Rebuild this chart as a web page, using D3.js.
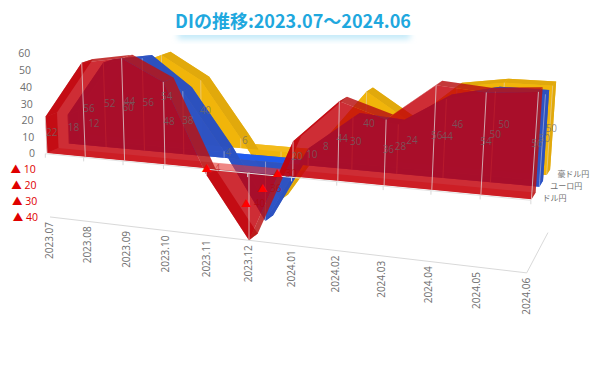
<!DOCTYPE html>
<html>
<head>
<meta charset="utf-8">
<script src="https://cdn.jsdelivr.net/npm/d3@7"></script>
<style>
  html, body { margin: 0; padding: 0; background: #fff; }
  text { font-family: "Open Sans", "Noto Sans CJK JP", sans-serif; }
</style>
</head>
<body>
<div id="chart"></div>
<script>
var months = ["2023.07","2023.08","2023.09","2023.10","2023.11","2023.12","2024.01","2024.02","2024.03","2024.04","2024.05","2024.06"];
var usdjpy = [22, 56, 60, 48, -4, -40, 20, 44, 36, 56, 54, 56];
var eurjpy = [18, 52, 56, 38, 4, -36, 10, 30, 28, 44, 50, 50];
var audjpy = [12, 44, 54, 40, 6, -30, 8, 40, 24, 46, 50, 50];
var valueTicks = [60, 50, 40, 30, 20, 10, 0, -10, -20, -30, -40];
var seriesNames = ["ドル円", "ユーロ円", "豪ドル円"];

var width = 600, height = 370;
var svg = d3.select("#chart").append("svg").attr("width", width).attr("height", height);

var tScale = d3.scaleLinear().domain([0, months.length - 1]).range([0, 1]);
var last = months.length - 1;
var grey = "#d9d9d9";

// perspective projection, fitted by eye to the reference
function project(i, v, d) {
    var t = tScale(i);
    var w = 1 - 0.142 * t - 0.000373 * v + 0.08 * d;
    return [(47 + 409 * t - 0.094 * v + 60 * d) / w, (153 + 18 * t - 1.68 * v - 12 * d) / w];
}
function pts(list) { return list.map(function (p) { return p.join(","); }).join(" "); }
function segment(parent, a, b, col, sw, op) {
    parent.append("line").attr("x1", a[0]).attr("y1", a[1]).attr("x2", b[0]).attr("y2", b[1])
        .attr("stroke", col).attr("stroke-width", sw || 1).attr("stroke-opacity", op || 1);
}

var defs = svg.append("defs");
defs.append("filter").attr("id", "glow").attr("x", "-10%").attr("y", "-50%").attr("width", "120%").attr("height", "200%")
    .append("feGaussianBlur").attr("stdDeviation", 3);

// title
svg.append("rect").attr("x", 178).attr("y", 30).attr("width", 232).attr("height", 9).attr("fill", "#bfe8f8").attr("filter", "url(#glow)");
svg.append("rect").attr("x", 168).attr("y", 6).attr("width", 250).attr("height", 29).attr("fill", "#fff");
svg.append("text").attr("x", 293).attr("y", 28).attr("text-anchor", "middle")
    .attr("font-size", 18).attr("font-weight", 700).attr("fill", "#1fa8de")
    .style("font-family", '"Noto Sans CJK JP", sans-serif')
    .text("DIの推移:2023.07～2024.06");

// floor lines
segment(svg, project(0, -40, 0), project(last, -40, 0), grey);
segment(svg, project(last, -40, 0), project(last, -40, 1.15), grey);

// ribbons, back to front
function ribbon(values, d0, d1, cols) {
    var g = svg.append("g");
    var idx = d3.range(values.length);
    function face(d) {
        return idx.map(function (i) { return project(i, values[i], d); })
            .concat(idx.slice().reverse().map(function (i) { return project(i, 0, d); }));
    }
    function poly(p, col, op) {
        g.append("polygon").attr("points", pts(p)).attr("fill", col).attr("fill-opacity", op);
    }
    poly(face(d1), cols.face, cols.backOp);
    poly([project(0, 0, d0), project(last, 0, d0), project(last, 0, d1), project(0, 0, d1)], cols.base, cols.baseOp);
    idx.slice(0, -1).forEach(function (i) {
        poly([project(i, values[i], d0), project(i + 1, values[i + 1], d0), project(i + 1, values[i + 1], d1), project(i, values[i], d1)], cols.top, cols.topOp);
    });
    poly([project(0, 0, d0), project(0, values[0], d0), project(0, values[0], d1), project(0, 0, d1)], cols.top, cols.topOp);
    poly([project(last, 0, d0), project(last, values[last], d0), project(last, values[last], d1), project(last, 0, d1)], cols.top, cols.topOp);
    poly(face(d0), cols.face, cols.faceOp);
    // drop lines
    idx.forEach(function (i) {
        segment(g, project(i, values[i], d0), project(i, 0, d0), "#e0d8d8", cols.dropWidth, cols.dropOp);
    });
}
ribbon(audjpy, 0.8, 1, {face: "#f0b40a", top: "#dfa80c", base: "#f2bb1a", faceOp: 0.95, backOp: 0.9, topOp: 0.95, baseOp: 0.95, dropWidth: 0.7, dropOp: 0.7});
ribbon(eurjpy, 0.4, 0.6, {face: "#2c52c4", top: "#2a50c0", base: "#1f5cf0", faceOp: 0.92, backOp: 0.85, topOp: 0.92, baseOp: 0.95, dropWidth: 0.7, dropOp: 0.7});
ribbon(usdjpy, 0, 0.21, {face: "#c3000a", top: "#b81414", base: "#e8403a", faceOp: 0.8, backOp: 0.12, topOp: 0.82, baseOp: 0.55, dropWidth: 1, dropOp: 0.75});

// category axis line on top of the ribbons
var axisG = svg.append("g");
segment(axisG, project(0, 0, -0.03), project(last, 0, -0.03), "#e2e2e2");
months.forEach(function (m, i) {
    var p = project(i, 0, -0.03);
    segment(axisG, p, [p[0], p[1] + 4], grey);
});

// value axis labels
svg.append("g").selectAll("text").data(valueTicks).join("text")
    .attr("x", function (d) { return project(0, d, 0)[0] - 12; })
    .attr("y", function (d) { return project(0, d, 0)[1] + 4; })
    .attr("text-anchor", "end")
    .attr("font-size", 10.5)
    .attr("fill", function (d) { return d < 0 ? "#e00000" : "#6e6e6e"; })
    .text(function (d) { return d < 0 ? "▲ " + (-d) : d; });

// month labels
svg.append("g").selectAll("text").data(months).join("text")
    .attr("transform", function (d, i) {
        var p = project(i, -40, 0);
        return "translate(" + (p[0] + 3) + "," + (p[1] + 5) + ") rotate(-90)";
    })
    .attr("text-anchor", "end")
    .attr("font-size", 10)
    .attr("fill", "#6e6e6e")
    .text(function (d) { return d; });

// data labels sit at half height of each ribbon
function dataLabels(values, d) {
    svg.append("g").selectAll("text").data(values).join("text")
        .attr("x", function (v, i) { return project(i, v / 2, d)[0]; })
        .attr("y", function (v, i) { return project(i, v / 2, d)[1] + 3.5; })
        .attr("text-anchor", "middle")
        .attr("font-size", 10)
        .attr("fill", "#6b6b6b")
        .attr("fill-opacity", 0.72)
        .each(function (v) {
            var t = d3.select(this);
            if (v < 0) {
                t.append("tspan").attr("fill", "#ff0000").attr("fill-opacity", 1).text("▲");
                t.append("tspan").attr("fill", "#b00000").attr("fill-opacity", 0.5).text(" " + (-v));
            } else {
                t.text(v);
            }
        });
}
dataLabels(audjpy, 0.9);
dataLabels(eurjpy, 0.5);
dataLabels(usdjpy, 0.1);

// series names on the depth axis
svg.append("g").selectAll("text").data(seriesNames).join("text")
    .attr("x", function (d, i) { return project(last, 0, i * 0.45)[0] + 11 - i; })
    .attr("y", function (d, i) { return project(last, 0, i * 0.45)[1] + 2 + i * 1.5; })
    .attr("font-size", 8)
    .attr("fill", "#6e6e6e")
    .style("font-family", '"Noto Sans CJK JP", sans-serif')
    .text(function (d) { return d; });
</script>
</body>
</html>
